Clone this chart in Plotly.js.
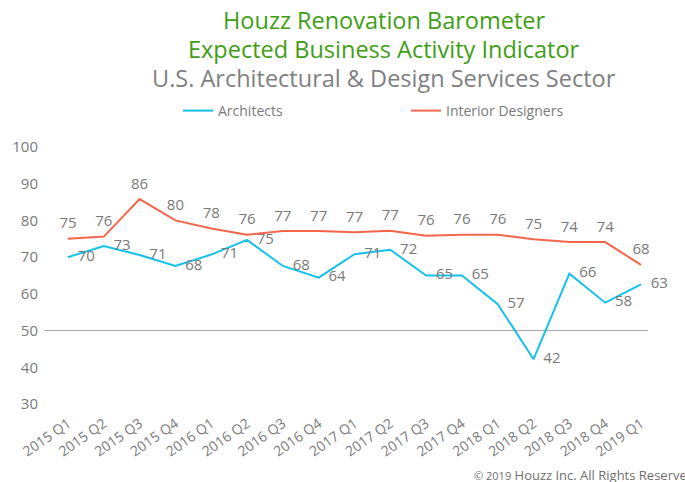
<!DOCTYPE html>
<html>
<head>
<meta charset="utf-8">
<script src="https://cdn.plot.ly/plotly-3.0.1.min.js"></script>
<style>html,body{margin:0;padding:0;background:#fff;}#chart{width:685px;height:482px;}</style>
</head>
<body>
<div id="chart"></div>
<script>
const quarters = ["2015 Q1","2015 Q2","2015 Q3","2015 Q4","2016 Q1","2016 Q2","2016 Q3","2016 Q4","2017 Q1","2017 Q2","2017 Q3","2017 Q4","2018 Q1","2018 Q2","2018 Q3","2018 Q4","2019 Q1"];
const architects = [70.0,73.0,70.6,67.6,70.7,74.7,67.6,64.4,70.8,72.0,65.0,65.0,57.2,42.2,65.5,57.6,62.6];
const interiorDesigners = [75.0,75.6,85.8,80.0,77.8,76.1,77.1,77.1,76.8,77.2,75.8,76.1,76.1,74.9,74.1,74.1,67.9];
const yTicks = [30,40,50,60,70,80,90,100];

const FONT = "'Open Sans', Lato, sans-serif";
const GRAY = "#7a7a7a";

const traces = [
  {
    name: "Architects", x: quarters, y: architects, type: "scatter", mode: "lines+markers+text",
    line: {color: "#16c0e9", width: 2},
    marker: {size: 14, color: "rgba(0,0,0,0)"},
    text: architects.map(v => Math.round(v).toString()),
    textposition: "middle right",
    textfont: {family: FONT, size: 15, color: GRAY},
    cliponaxis: false
  },
  {
    name: "Interior Designers", x: quarters, y: interiorDesigners, type: "scatter", mode: "lines+markers+text",
    line: {color: "#f2664c", width: 2},
    marker: {size: 9, color: "rgba(0,0,0,0)"},
    text: interiorDesigners.map(v => Math.round(v).toString()),
    textposition: "top center",
    textfont: {family: FONT, size: 15, color: GRAY},
    cliponaxis: false
  }
];

const L = 44, R = 648, T = 147, B = 404;
const W = R - L, H = B - T;
const px = X => (X - L) / W;
const py = Y => (B - Y) / H;

const layout = {
  width: 685, height: 482,
  margin: {l: L, r: 685 - R, t: T, b: 482 - B, pad: 0},
  paper_bgcolor: "#fff", plot_bgcolor: "#fff",
  font: {family: FONT, color: GRAY},
  showlegend: true,
  legend: {orientation: "h", xref: "container", yref: "container", x: 178/685, xanchor: "left", y: 1 - 111/482, yanchor: "middle",
           entrywidth: 183, entrywidthmode: "pixels", itemwidth: 30,
           font: {family: FONT, size: 14, color: GRAY}, bgcolor: "rgba(0,0,0,0)"},
  xaxis: {
    type: "category", range: [-0.67, 16.195], showgrid: false, zeroline: false, showline: false,
    ticks: "", tickangle: -35, tickfont: {family: FONT, size: 14, color: GRAY},
    ticklabelstandoff: 8, fixedrange: true
  },
  yaxis: {
    range: [30, 100], tickvals: yTicks, showgrid: false, zeroline: false, showline: false,
    ticks: "", tickfont: {family: FONT, size: 15, color: GRAY}, ticklabelstandoff: 5, fixedrange: true
  },
  shapes: [
    {type: "line", xref: "paper", yref: "y", x0: 0, x1: 1, y0: 50, y1: 50, line: {color: "#a6a6a6", width: 1}, layer: "below"}
  ],
  annotations: [
    {text: "Houzz Renovation Barometer", xref: "paper", yref: "paper", x: px(384), y: py(20), xanchor: "center", yanchor: "middle", showarrow: false, font: {family: FONT, size: 23.5, color: "#3f9e16"}},
    {text: "Expected Business Activity Indicator", xref: "paper", yref: "paper", x: px(384), y: py(49), xanchor: "center", yanchor: "middle", showarrow: false, font: {family: FONT, size: 23.5, color: "#3f9e16"}},
    {text: "U.S. Architectural &amp; Design Services Sector", xref: "paper", yref: "paper", x: px(384), y: py(78), xanchor: "center", yanchor: "middle", showarrow: false, font: {family: FONT, size: 23.5, color: "#7f7f7f"}},
    {text: "<span style='font-size:11px'>© 2019</span> Houzz Inc. All Rights Reserved", xref: "paper", yref: "paper", x: px(472), y: py(475), xanchor: "left", yanchor: "middle", showarrow: false, font: {family: FONT, size: 13, color: "#6f6f6f"}}
  ]
};

Plotly.newPlot("chart", traces, layout, {displayModeBar: false, staticPlot: true});
</script>
</body>
</html>
